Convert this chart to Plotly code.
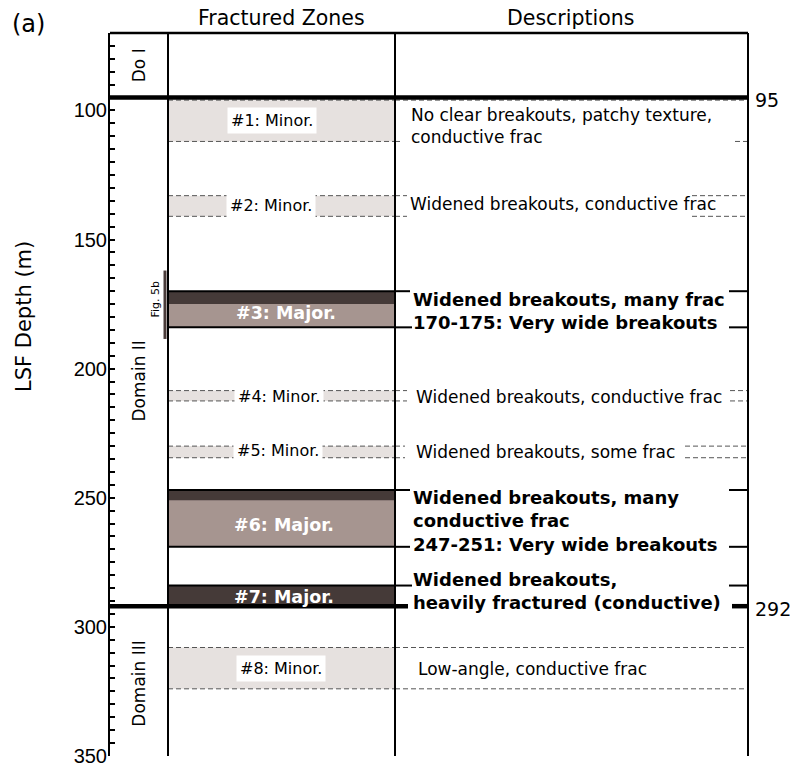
import plotly.graph_objects as go

FONT = "DejaVu Sans"
TICK_FONT = "Liberation Sans, Arial"

# ---------------- data ----------------
depth_range = [70, 350]
depth_ticks = [100, 150, 200, 250, 300, 350]

domain_names = ["Do I", "Domain II", "Domain III"]
domain_label_depths = [82.5, 205, 322]
boundary_depths = [95, 292]

zone_ids = [1, 2, 3, 4, 5, 6, 7, 8]
zone_class = ["Minor", "Minor", "Major", "Minor", "Minor", "Major", "Major", "Minor"]
zone_top = [96, 133, 170, 208.5, 230, 247, 284, 308]
zone_bottom = [112, 141, 184, 212.5, 234.5, 269, 292, 324]
# very wide breakout intervals inside the major zones
wide_top = [None, None, 170, None, None, 247, 284, None]
wide_bottom = [None, None, 175, None, None, 251, 292, None]

descriptions = [
    "No clear breakouts, patchy texture,<br>conductive frac",
    "Widened breakouts, conductive frac",
    "Widened breakouts, many frac<br>170-175: Very wide breakouts",
    "Widened breakouts, conductive frac",
    "Widened breakouts, some frac",
    "Widened breakouts, many<br>conductive frac<br>247-251: Very wide breakouts",
    "Widened breakouts,<br>heavily fractured (conductive)",
    "Low-angle, conductive frac",
]

fig5b_interval = [162, 188.5]

# ---------------- column layout (pixels right of the depth axis) ----------------
PLOT_W = 638
DOMAIN_LABEL_X = 29
ZONE_COL = (58, 285)
DESC_COL = (285, PLOT_W)
FIG5B_X = 55

zone_label_x = [162, 161, 176, 169, 168, 174, 174, 171]
zone_label_depth = [104, 136.8, 178.5, 210.6, 231.7, 260.6, 288.4, 316]
desc_x = [299, 298, 301, 304, 304, 301, 301, 306]
desc_depth = [106, 136.4, 177.5, 210.9, 232.1, 259.1, 286.3, 316.5]
# (left stub end, right segment start) of the zone lines inside the description column;
# None -> line runs across the whole column
desc_line_top = [None, (297, 582), (300, 619), (297, 620), (295, 575), (300, 619), (302, 619), None]
desc_line_bottom = [(293, 625), (297, 582), (302, 619), (297, 620), (295, 575), (300, 619), None, None]
boundary_gaps = [None, (298, 622)]

C_MINOR = "#e6e1df"
C_MAJOR = "#a69590"
C_WIDE = "#453a38"
C_DASH = "#555555"

shapes = []


def hline(y, x0, x1, width, color="black", dash="solid"):
    shapes.append(dict(type="line", xref="x", yref="y", x0=x0, x1=x1, y0=y, y1=y,
                       line=dict(color=color, width=width, dash=dash)))


def rect(y0, y1, x0, x1, color):
    shapes.append(dict(type="rect", xref="x", yref="y", x0=x0, x1=x1, y0=y0, y1=y1,
                       fillcolor=color, line=dict(width=0)))


# zone fills
for i in range(len(zone_ids)):
    if zone_class[i] == "Minor":
        rect(zone_top[i], zone_bottom[i], *ZONE_COL, C_MINOR)
    else:
        rect(zone_top[i], zone_bottom[i], *ZONE_COL, C_MAJOR)
        rect(wide_top[i], wide_bottom[i], *ZONE_COL, C_WIDE)

# zone boundary lines
for i in range(len(zone_ids)):
    minor = zone_class[i] == "Minor"
    style = dict(width=1, color=C_DASH, dash="5px,3px") if minor else dict(width=2, color="black")
    for depth, seg in ((zone_top[i], desc_line_top[i]), (zone_bottom[i], desc_line_bottom[i])):
        if depth in boundary_depths:
            continue
        hline(depth, ZONE_COL[0], ZONE_COL[1], **style)
        if seg is None:
            hline(depth, DESC_COL[0], DESC_COL[1], **style)
        else:
            hline(depth, DESC_COL[0], seg[0], **style)
            hline(depth, seg[1], DESC_COL[1], **style)

# Fig. 5b interval bar
shapes.append(dict(type="line", xref="x", yref="y", x0=FIG5B_X, x1=FIG5B_X,
                   y0=fig5b_interval[0], y1=fig5b_interval[1],
                   line=dict(color="#4a3c3a", width=3)))

# column separators and frame
for xc in (ZONE_COL[0], ZONE_COL[1]):
    shapes.append(dict(type="line", xref="x", yref="y", x0=xc, x1=xc,
                       y0=depth_range[0], y1=depth_range[1], line=dict(color="black", width=2)))
shapes.append(dict(type="line", xref="paper", yref="y", x0=1, x1=1,
                   y0=depth_range[0], y1=depth_range[1], line=dict(color="black", width=2)))
shapes.append(dict(type="line", xref="paper", yref="paper", x0=0, x1=1, y0=1, y1=1,
                   line=dict(color="black", width=2.5)))

# domain boundaries
for depth, gap in zip(boundary_depths, boundary_gaps):
    if gap is None:
        hline(depth, 0, DESC_COL[1], 4.5)
    else:
        hline(depth, 0, gap[0], 4.5)
        hline(depth, gap[1], DESC_COL[1], 4.5)

annotations = []

# domain labels
for name, d in zip(domain_names, domain_label_depths):
    annotations.append(dict(x=DOMAIN_LABEL_X, y=d, xref="x", yref="y", text=name,
                            textangle=-90, showarrow=False,
                            font=dict(family=FONT, size=17, color="black")))
annotations.append(dict(x=FIG5B_X - 9, y=sum(fig5b_interval) / 2 - 2, xref="x", yref="y",
                        text="Fig. 5b", textangle=-90, showarrow=False,
                        font=dict(family=FONT, size=11, color="black")))

# zone labels
for i, zid in enumerate(zone_ids):
    if zone_class[i] == "Minor":
        annotations.append(dict(x=zone_label_x[i], y=zone_label_depth[i], xref="x", yref="y",
                                text=f"#{zid}: Minor.", showarrow=False, bgcolor="white",
                                borderpad=3,
                                font=dict(family=FONT, size=16, color="black")))
    else:
        annotations.append(dict(x=zone_label_x[i], y=zone_label_depth[i], xref="x", yref="y",
                                text=f"<b>#{zid}: Major.</b>", showarrow=False,
                                font=dict(family=FONT, size=17.5, color="white")))

# descriptions
for i, txt in enumerate(descriptions):
    major = zone_class[i] == "Major"
    annotations.append(dict(x=desc_x[i], y=desc_depth[i], xref="x", yref="y",
                            text=f"<b>{txt}</b>" if major else txt,
                            showarrow=False, xanchor="left", align="left",
                            font=dict(family=FONT, size=18 if major else 17, color="black")))

# boundary depth labels (right of the frame)
for d in boundary_depths:
    annotations.append(dict(x=(DESC_COL[1] + 5) / PLOT_W, y=d + 1, xref="paper", yref="y",
                            text=str(d), showarrow=False, xanchor="left", yanchor="middle",
                            font=dict(family=FONT, size=19, color="black")))

# headers and titles
annotations.append(dict(x=(ZONE_COL[0] + ZONE_COL[1]) / 2, y=1.021, xref="x", yref="paper",
                        text="Fractured Zones", showarrow=False, yanchor="middle",
                        font=dict(family=FONT, size=20.5, color="black")))
annotations.append(dict(x=460, y=1.021, xref="x", yref="paper",
                        text="Descriptions", showarrow=False, yanchor="middle",
                        font=dict(family=FONT, size=20.5, color="black")))
annotations.append(dict(x=-82 / PLOT_W, y=1.012, xref="paper", yref="paper", text="(a)",
                        showarrow=False, xanchor="center", yanchor="middle",
                        font=dict(family=FONT, size=24, color="black")))
annotations.append(dict(x=-86 / PLOT_W, y=180, xref="paper", yref="y", text="LSF Depth (m)",
                        textangle=-90, showarrow=False, xanchor="center", yanchor="middle",
                        font=dict(family=FONT, size=21, color="black")))

fig = go.Figure()
fig.update_layout(
    width=790, height=766,
    margin=dict(l=110, r=42, t=33, b=10),
    paper_bgcolor="white", plot_bgcolor="white",
    showlegend=False,
    shapes=shapes,
    annotations=annotations,
    xaxis=dict(range=[0, PLOT_W], visible=False, fixedrange=True),
    yaxis=dict(
        range=[depth_range[1] + 0.02, depth_range[0]],
        tickvals=depth_ticks,
        ticks="inside", ticklen=5, tickwidth=1.5, tickcolor="black",
        minor=dict(dtick=5, tick0=0, ticks="inside", ticklen=5, tickwidth=1.5, tickcolor="black"),
        showline=True, linecolor="black", linewidth=2,
        showgrid=False, zeroline=False,
        tickfont=dict(family=TICK_FONT, size=20, color="black"),
        ticklabelstandoff=-3,
        ticklabeloverflow="allow",
        automargin=False,
    ),
)

fig.write_html("out.html")
